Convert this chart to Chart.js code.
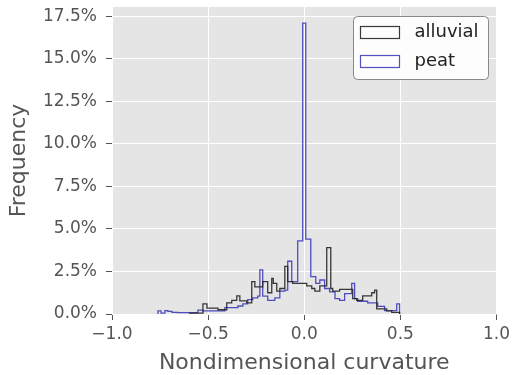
<!DOCTYPE html>
<html>
<head>
<meta charset="utf-8">
<script src="https://cdn.jsdelivr.net/npm/chart.js@4"></script>
<style>
  html, body { margin: 0; padding: 0; background: #fff; }
  #wrap { width: 514px; height: 375px; }
</style>
</head>
<body>
<div id="wrap"><canvas id="curvChart" width="514" height="375"></canvas></div>
<script>
// bin edges (left edge of each step) and frequency in %
const alluvialEdges = [-0.595, -0.527, -0.506, -0.449, -0.403, -0.377, -0.351, -0.335, -0.299, -0.273,
    -0.257, -0.216, -0.190, -0.169, -0.161, -0.143, -0.127, -0.101, -0.086, -0.060,
    0.013, 0.039, 0.055, 0.081, 0.117, 0.138, 0.148, 0.184, 0.252, 0.273,
    0.304, 0.351, 0.366, 0.377, 0.429, 0.455, 0.496];
const alluvialFreq = [0.05, 0.6, 0.35, 0.25, 0.65, 0.8, 1.06, 0.77, 0.65, 1.9,
    1.6, 1.9, 1.25, 2.1, 1.8, 1.35, 1.5, 2.8, 1.9, 1.8,
    1.65, 1.5, 1.35, 1.65, 3.9, 1.5, 1.35, 1.45, 0.9, 0.8,
    1.06, 1.25, 1.4, 0.3, 0.18, 0.1];

const peatEdges = [-0.761, -0.745, -0.725, -0.709, -0.688, -0.657, -0.553, -0.527, -0.413, -0.345,
    -0.319, -0.294, -0.268, -0.242, -0.231, -0.216, -0.190, -0.153, -0.127, -0.101,
    -0.086, -0.065, -0.034, -0.008, 0.008, 0.034, 0.060, 0.081, 0.106, 0.132,
    0.160, 0.184, 0.210, 0.247, 0.262, 0.278, 0.330, 0.382, 0.418, 0.481, 0.496];
const peatFreq = [0.18, 0.05, 0.2, 0.15, 0.1, 0.08, 0.23, 0.18, 0.37, 0.47,
    0.6, 0.85, 0.95, 1.05, 2.6, 1.05, 0.8, 0.95, 1.35, 1.4,
    3.1, 1.9, 4.3, 17.1, 4.4, 2.2, 1.8, 2.0, 1.5, 1.3,
    0.9, 0.8, 1.2, 1.8, 0.9, 0.75, 0.65, 0.45, 0.2, 0.6];

const xTicks = [-1.0, -0.5, 0.0, 0.5, 1.0];
const yTicks = [0, 2.5, 5, 7.5, 10, 12.5, 15, 17.5];

function stepPoints(edges, freq) {
    const pts = [{ x: edges[0], y: 0 }];
    for (let i = 0; i < freq.length; i++) {
        pts.push({ x: edges[i], y: freq[i] });
    }
    pts.push({ x: edges[edges.length - 1], y: freq[freq.length - 1] });
    pts.push({ x: edges[edges.length - 1], y: 0 });
    return pts;
}

const FONT = "'DejaVu Sans', sans-serif";
const TXT = '#555555';

// grey plot background like the ggplot style
const panelBg = {
    id: 'panelBg',
    beforeDraw(chart) {
        const a = chart.chartArea, c = chart.ctx;
        c.save();
        c.fillStyle = '#e5e5e5';
        c.fillRect(a.left, a.top, a.right - a.left, a.bottom - a.top);
        c.restore();
    }
};

// legend box in the upper right corner of the plot
const boxLegend = {
    id: 'boxLegend',
    afterDraw(chart) {
        const c = chart.ctx;
        const x = 353.5, y = 16.5, w = 135, h = 63;
        c.save();
        c.beginPath();
        c.roundRect(x, y, w, h, 4);
        c.fillStyle = 'rgba(255,255,255,0.9)';
        c.fill();
        c.strokeStyle = '#888';
        c.lineWidth = 1;
        c.stroke();
        c.font = '18px ' + FONT;
        c.textBaseline = 'middle';
        chart.data.datasets.forEach((ds, i) => {
            const ly = y + 16 + i * 29;
            c.strokeStyle = ds.borderColor;
            c.lineWidth = 1.2;
            c.strokeRect(x + 7, ly - 6, 39, 12);
            c.fillStyle = '#222';
            c.fillText(ds.label, x + 61, ly);
        });
        c.restore();
    }
};

const ctx = document.getElementById('curvChart').getContext('2d');
new Chart(ctx, {
    type: 'line',
    data: {
        datasets: [
            {
                label: 'alluvial',
                data: stepPoints(alluvialEdges, alluvialFreq),
                borderColor: 'rgba(35,35,35,0.9)',
                borderWidth: 1.3,
                stepped: 'before',
                pointRadius: 0,
                fill: false
            },
            {
                label: 'peat',
                data: stepPoints(peatEdges, peatFreq),
                borderColor: 'rgba(50,50,185,0.85)',
                borderWidth: 1.3,
                stepped: 'before',
                pointRadius: 0,
                fill: false
            }
        ]
    },
    options: {
        responsive: false,
        animation: false,
        layout: { padding: { top: 7, right: 17, left: 0, bottom: 0 } },
        plugins: {
            legend: { display: false },
            tooltip: { enabled: false }
        },
        scales: {
            x: {
                type: 'linear',
                min: -1,
                max: 1,
                afterBuildTicks(axis) { axis.ticks = xTicks.map(v => ({ value: v })); },
                afterFit(axis) { axis.height = 61; },
                ticks: {
                    color: TXT,
                    font: { family: FONT, size: 17 },
                    padding: 4,
                    maxRotation: 0,
                    callback: v => (v < 0 ? '\u2212' : '') + Math.abs(v).toFixed(1)
                },
                grid: {
                    color: '#ffffff',
                    lineWidth: 1,
                    drawTicks: true,
                    tickLength: 6,
                    tickColor: '#555'
                },
                border: { display: false },
                title: {
                    display: true,
                    text: 'Nondimensional curvature',
                    color: TXT,
                    font: { family: FONT, size: 22, lineHeight: 1 },
                    padding: { top: 0, bottom: 1 }
                }
            },
            y: {
                min: 0,
                max: 18.05,
                afterBuildTicks(axis) { axis.ticks = yTicks.map(v => ({ value: v })); },
                afterFit(axis) {
                    axis.width = 112;
                    axis.paddingTop = 0;
                    axis.paddingBottom = 0;
                },
                ticks: {
                    color: TXT,
                    font: { family: FONT, size: 17 },
                    padding: 9,
                    callback: v => v.toFixed(1) + '%'
                },
                grid: {
                    color: '#ffffff',
                    lineWidth: 1,
                    drawTicks: true,
                    tickLength: 6,
                    tickColor: '#555'
                },
                border: { display: false },
                title: {
                    display: true,
                    text: 'Frequency',
                    color: TXT,
                    font: { family: FONT, size: 22, lineHeight: 1 },
                    padding: { top: 8, bottom: 0 }
                }
            }
        }
    },
    plugins: [panelBg, boxLegend]
});
</script>
</body>
</html>
